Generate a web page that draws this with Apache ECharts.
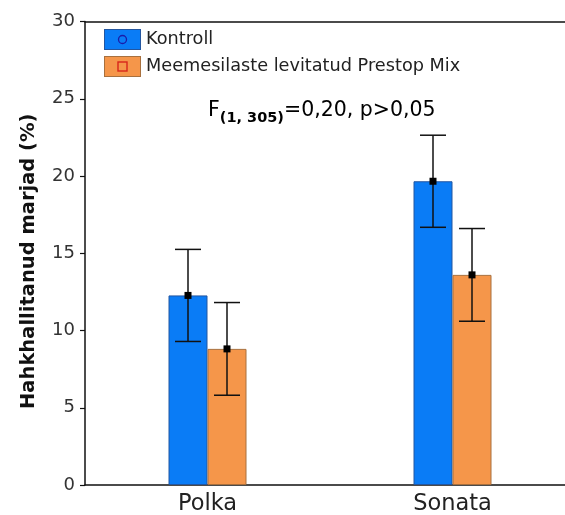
<!DOCTYPE html>
<html>
<head>
<meta charset="utf-8">
<script src="https://cdn.jsdelivr.net/npm/echarts@6/dist/echarts.min.js"></script>
<style>html,body{margin:0;padding:0;background:#fff;}#c{width:565px;height:515px;}</style>
</head>
<body>
<div id="c"></div>
<script>
var categories = ['Polka', 'Sonata'];
var seriesNames = ['Kontroll', 'Meemesilaste levitatud Prestop Mix'];
var kontrollMean = [12.27, 19.66];
var kontrollErr = [2.98, 2.98];
var prestopMean = [8.81, 13.6];
var prestopErr = [3.0, 3.0];
var yTicks = [0, 5, 10, 15, 20, 25, 30];

var FONT = 'DejaVu Sans';
var BAR_W = 39;
var blueFill = '#0a7cf6', blueEdge = '#2356a0';
var orangeFill = '#f5964a', orangeEdge = '#a8703e';

function svgIcon(fill, edge, inner) {
  var s = "<svg xmlns='http://www.w3.org/2000/svg' width='37' height='21' viewBox='0 0 37 21'>" +
    "<rect x='0.5' y='0.5' width='36' height='20' fill='" + fill + "' stroke='" + edge + "'/>" + inner + "</svg>";
  return 'image://data:image/svg+xml;charset=utf-8,' + encodeURIComponent(s);
}
var iconK = svgIcon(blueFill, blueEdge, "<circle cx='18.5' cy='10.5' r='4' fill='none' stroke='#1b1ba8' stroke-width='1.3'/>");
var iconM = svgIcon(orangeFill, orangeEdge, "<rect x='14' y='6' width='9' height='9' fill='none' stroke='#d8261c' stroke-width='1.4'/>");

function errData(mean, err) {
  return mean.map(function (m, i) { return [i, m - err[i], m + err[i], m]; });
}
function makeErr(offset) {
  return function (params, api) {
    var hi = api.coord([api.value(0), api.value(2)]);
    var lo = api.coord([api.value(0), api.value(1)]);
    var mid = api.coord([api.value(0), api.value(3)]);
    var x = hi[0] + offset;
    var cw = 13;
    var st = { stroke: '#111', lineWidth: 1.5 };
    return {
      type: 'group',
      children: [
        { type: 'line', shape: { x1: x, y1: hi[1], x2: x, y2: lo[1] }, style: st },
        { type: 'line', shape: { x1: x - cw, y1: hi[1], x2: x + cw, y2: hi[1] }, style: st },
        { type: 'line', shape: { x1: x - cw, y1: lo[1], x2: x + cw, y2: lo[1] }, style: st },
        { type: 'rect', shape: { x: x - 3.5, y: mid[1] - 3.5, width: 7, height: 7 }, style: { fill: '#000' } }
      ]
    };
  };
}

var chart = echarts.init(document.getElementById('c'), null, { renderer: 'canvas' });
chart.setOption({
  animation: false,
  backgroundColor: '#fff',
  grid: { left: 85, top: 21.5, bottom: 30, width: 490, containLabel: false, outerBoundsMode: 'none' },
  legend: {
    orient: 'vertical',
    left: 99, top: 24,
    itemWidth: 37, itemHeight: 21, itemGap: 6,
    textStyle: { fontFamily: FONT, fontSize: 17.7, color: '#222' },
    data: [{ name: seriesNames[0], icon: iconK }, { name: seriesNames[1], icon: iconM }]
  },
  xAxis: [{
    type: 'category', data: categories, position: 'bottom',
    axisLine: { show: true, lineStyle: { color: '#111', width: 1.5 } },
    axisTick: { show: false },
    axisLabel: { fontFamily: FONT, fontSize: 22.5, color: '#222', margin: 8 },
    splitLine: { show: false }
  }, {
    type: 'category', data: categories, position: 'top',
    axisLine: { show: true, onZero: false, lineStyle: { color: '#111', width: 1.5 } },
    axisTick: { show: false }, axisLabel: { show: false }, splitLine: { show: false }
  }],
  yAxis: {
    type: 'value', min: yTicks[0], max: yTicks[yTicks.length - 1], interval: 5,
    name: 'Hahkhallitanud marjad (%)', nameLocation: 'middle', nameGap: 46,
    nameTextStyle: { fontFamily: FONT, fontSize: 19.5, fontWeight: 'bold', color: '#111', padding: [0, 16, 0, 0] },
    axisLine: { show: true, lineStyle: { color: '#111', width: 1.5 } },
    axisTick: { show: true, inside: false, length: 5, lineStyle: { color: '#111', width: 1.2 } },
    axisLabel: { fontFamily: FONT, fontSize: 18, color: '#333', margin: 10 },
    splitLine: { show: false }
  },
  graphic: [{
    type: 'text', left: 208, top: 100,
    style: {
      text: '{a|F}{b|(1, 305)}{a|=0,20, p>0,05}',
      rich: {
        a: { fontFamily: FONT, fontSize: 20.5, color: '#222', lineHeight: 26, verticalAlign: 'bottom' },
        b: { fontFamily: FONT, fontSize: 14.5, fontWeight: 'bold', color: '#222', lineHeight: 26, verticalAlign: 'bottom', padding: [0, 0, -5, 0] }
      }
    }
  }],
  series: [{
    name: seriesNames[0], type: 'bar', data: kontrollMean, barWidth: BAR_W, barGap: '0%',
    itemStyle: { color: blueFill, borderColor: blueEdge, borderWidth: 1 }
  }, {
    name: seriesNames[1], type: 'bar', data: prestopMean, barWidth: BAR_W, barGap: '0%',
    itemStyle: { color: orangeFill, borderColor: orangeEdge, borderWidth: 1 }
  }, {
    type: 'custom', name: 'errK', renderItem: makeErr(-BAR_W / 2), data: errData(kontrollMean, kontrollErr),
    encode: { x: 0, y: [1, 2] }, z: 10
  }, {
    type: 'custom', name: 'errM', renderItem: makeErr(BAR_W / 2), data: errData(prestopMean, prestopErr),
    encode: { x: 0, y: [1, 2] }, z: 10
  }]
});
</script>
</body>
</html>
